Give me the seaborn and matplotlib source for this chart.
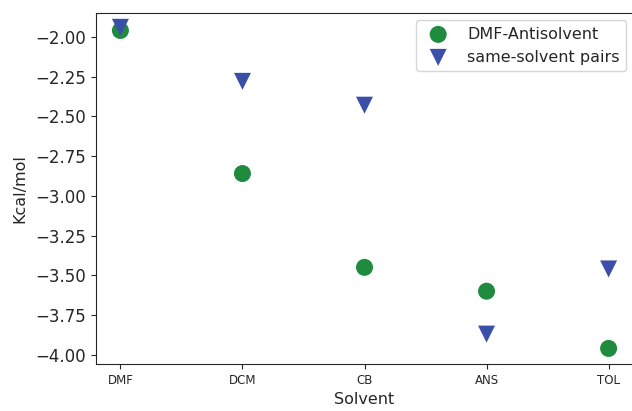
import pandas as pd
import seaborn as sns
import matplotlib
matplotlib.use('Agg')
import matplotlib.pyplot as plt

solvents = ['DMF', 'DCM', 'CB', 'ANS', 'TOL']
dmf_antisolvent = [-1.96, -2.86, -3.45, -3.60, -3.96]
same_solvent = [-1.94, -2.28, -2.43, -3.87, -3.46]

df = pd.DataFrame({'Solvent': solvents,
                   'DMF-Antisolvent': dmf_antisolvent,
                   'same-solvent pairs': same_solvent})

sns.set_style('ticks')
plt.rcParams['font.family'] = ['DejaVu Sans']

fig = plt.figure(figsize=(6.32, 4.11), dpi=100)
ax = fig.add_axes([96 / 632, 47 / 411, 537 / 632, 351 / 411])

sns.scatterplot(ax=ax, data=df, x='Solvent', y='DMF-Antisolvent', marker='o',
                s=150, color='#1e8b3e', edgecolor='none', label='DMF-Antisolvent')
sns.scatterplot(ax=ax, data=df, x='Solvent', y='same-solvent pairs', marker='v',
                s=150, color='#3b4fa8', edgecolor='none', label='same-solvent pairs')

ax.set_xlim(-0.2, 4.2)
ax.set_ylim(-4.058, -1.85)
ax.set_xlabel('Solvent', fontsize=11.5)
ax.set_ylabel('Kcal/mol', fontsize=11.5, labelpad=6)
ax.tick_params(axis='x', labelsize=8.5)
ax.tick_params(axis='y', labelsize=12)
ax.legend(loc='upper right', fontsize=11.5, markerscale=1.0,
          bbox_to_anchor=(1.0, 1.0), borderaxespad=0.45)

fig.savefig('out.png', dpi=100)
plt.close()
